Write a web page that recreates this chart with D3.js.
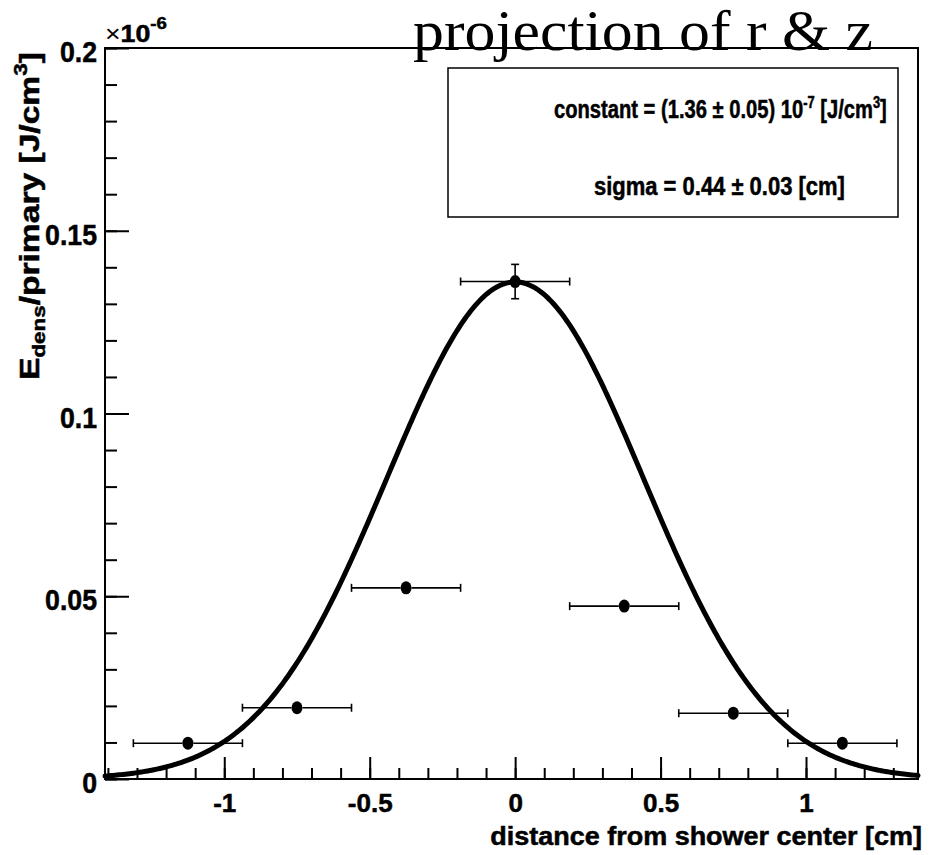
<!DOCTYPE html>
<html><head><meta charset="utf-8">
<script src="https://cdn.jsdelivr.net/npm/d3@7"></script>
<style>
body{margin:0;background:#fff;}
svg{display:block;}
text{font-family:"Liberation Sans",Arial,sans-serif;font-weight:bold;fill:#000;stroke:#000;stroke-width:0.5px;}
</style></head>
<body>
<svg id="c" width="933" height="855"></svg>
<script>
// ---- data (values in units of 1e-6 J/cm^3) ----
const binCenters = [-1.125, -0.75, -0.375, 0, 0.375, 0.75, 1.125];
const binHalfWidth = [0.1875, 0.1875, 0.1875, 0.1875, 0.1875, 0.1875, 0.1875];
const edens = [0.0098, 0.0195, 0.0523, 0.1361, 0.0473, 0.0180, 0.0098];
const edensErr = [0.0012, 0.0014, 0.0018, 0.0047, 0.0017, 0.0014, 0.0012];
const fitParams = [0.136, 0.0, 0.44]; // constant (x1e-6), mean, sigma
const yTickLabels = ["0", "0.05", "0.1", "0.15", "0.2"];
const xTickLabels = ["-1", "-0.5", "0", "0.5", "1"];
const titleText = "projection of r & z";
const statLines = ["constant = (1.36 \u00b1 0.05) 10", "sigma = 0.44 \u00b1 0.03 [cm]"];

const svg = d3.select("#c");
const L = 105, R = 918, T = 48, B = 779;
const x = d3.scaleLinear().domain([-1.41, 1.385]).range([L, R]);
const y = d3.scaleLinear().domain([0, 0.2]).range([B, T]);

// horizontally scale a text element so its width equals target, keeping anchor point fixed
function fitWidth(node, target, ax, ay, pre) {
  const w = node.getBBox().width;
  const s = target / w;
  node.setAttribute("transform", (pre || "") + ` translate(${ax},${ay}) scale(${s},1) translate(${-ax},${-ay})`);
}

// frame
svg.append("rect").attr("x", L).attr("y", T).attr("width", R - L).attr("height", B - T)
  .attr("fill", "none").attr("stroke", "#000").attr("stroke-width", 2);

// y axis ticks
const yMajor = yTickLabels.map(Number);
const yMinor = d3.range(0, 0.2001, 0.01);
const yAxis = d3.axisLeft(y).tickValues(yMajor).tickFormat((d, i) => yTickLabels[i])
  .tickSizeInner(-24).tickSizeOuter(0).tickPadding(8);
const gy = svg.append("g").attr("transform", `translate(${L},0)`).call(yAxis);
gy.select(".domain").remove();
gy.selectAll("line").attr("stroke-width", 2);
gy.selectAll("text").style("font-size", "30px").attr("dy", "0.45em")
  .attr("transform", "translate(-8,0) scale(0.89,1) translate(8,0)");
const yAxisMin = d3.axisLeft(y).tickValues(yMinor).tickFormat("").tickSizeInner(-12).tickSizeOuter(0);
const gym = svg.append("g").attr("transform", `translate(${L},0)`).call(yAxisMin);
gym.select(".domain").remove();
gym.selectAll("line").attr("stroke-width", 2);

// x axis ticks
const xMajor = xTickLabels.map(Number);
const xMinor = d3.range(-1.4, 1.3501, 0.1).map(v => Math.round(v * 10) / 10);
const xAxis = d3.axisBottom(x).tickValues(xMajor).tickFormat((d, i) => xTickLabels[i])
  .tickSizeInner(-22).tickSizeOuter(0).tickPadding(14);
const gx = svg.append("g").attr("transform", `translate(0,${B})`).call(xAxis);
gx.select(".domain").remove();
gx.selectAll("line").attr("stroke-width", 2);
gx.selectAll("text").style("font-size", "26px").attr("dy", "0.72em");
const xAxisMin = d3.axisBottom(x).tickValues(xMinor.filter(v => v > -1.41)).tickFormat("").tickSizeInner(-11).tickSizeOuter(0);
const gxm = svg.append("g").attr("transform", `translate(0,${B})`).call(xAxisMin);
gxm.select(".domain").remove();
gxm.selectAll("line").attr("stroke-width", 2);

// axis titles
const xt = svg.append("text").attr("x", 922).attr("y", 845).attr("text-anchor", "end")
  .style("font-size", "25px").text("distance from shower center [cm]");
fitWidth(xt.node(), 432, 922, 845);

const yl = svg.append("text").attr("x", 0).attr("y", 0).style("font-size", "27px");
yl.append("tspan").text("E");
yl.append("tspan").attr("dy", 6).style("font-size", "18px").text("dens");
yl.append("tspan").attr("dy", -6).text("/primary [J/cm");
yl.append("tspan").attr("dy", -12).style("font-size", "18px").text("3");
yl.append("tspan").attr("dy", 12).text("]");
fitWidth(yl.node(), 328, 0, 0, "translate(39,380) rotate(-90)");

// x10^-6
const mul = svg.append("text").attr("x", 105).attr("y", 42).style("font-size", "23px");
mul.append("tspan").style("font-weight", "normal").style("stroke-width", "0px").text("\u00d7");
mul.append("tspan").text("10");
mul.append("tspan").attr("dy", -13).style("font-size", "16px").text("-6");
fitWidth(mul.node(), 62, 105, 42);

// fit curve
const curveX = d3.range(0, 401).map(i => -1.41 + i * (1.385 + 1.41) / 400);
const gauss = v => fitParams[0] * Math.exp(-0.5 * Math.pow((v - fitParams[1]) / fitParams[2], 2));
svg.append("path").datum(curveX)
  .attr("d", d3.line().x(d => x(d)).y(d => y(gauss(d))))
  .attr("fill", "none").attr("stroke", "#000").attr("stroke-width", 5).attr("stroke-linecap", "round");

// data points with error bars
const mrx = 5.5, mry = 6.5, cap = 4;
const pts = svg.append("g");
binCenters.forEach((c, i) => {
  const px = x(c), py = y(edens[i]);
  const x0 = x(c - binHalfWidth[i]), x1 = x(c + binHalfWidth[i]);
  const g = pts.append("g").attr("stroke", "#000").attr("stroke-width", 1.6);
  g.append("line").attr("x1", x0).attr("x2", px - mrx).attr("y1", py).attr("y2", py);
  g.append("line").attr("x1", px + mrx).attr("x2", x1).attr("y1", py).attr("y2", py);
  g.append("line").attr("x1", x0).attr("x2", x0).attr("y1", py - cap).attr("y2", py + cap);
  g.append("line").attr("x1", x1).attr("x2", x1).attr("y1", py - cap).attr("y2", py + cap);
  const ey0 = y(edens[i] + edensErr[i]), ey1 = y(edens[i] - edensErr[i]);
  if (py - ey0 > mry + 2) {
    g.append("line").attr("x1", px).attr("x2", px).attr("y1", ey0).attr("y2", py - mry);
    g.append("line").attr("x1", px).attr("x2", px).attr("y1", py + mry).attr("y2", ey1);
    g.append("line").attr("x1", px - cap).attr("x2", px + cap).attr("y1", ey0).attr("y2", ey0);
    g.append("line").attr("x1", px - cap).attr("x2", px + cap).attr("y1", ey1).attr("y2", ey1);
  }
  pts.append("ellipse").attr("cx", px).attr("cy", py).attr("rx", mrx).attr("ry", mry).attr("fill", "#000");
});

// stats box
svg.append("rect").attr("x", 448).attr("y", 68).attr("width", 450).attr("height", 149)
  .attr("fill", "#fff").attr("stroke", "#000").attr("stroke-width", 1.5);
const s1 = svg.append("text").attr("x", 554).attr("y", 118).style("font-size", "25px");
s1.append("tspan").text(statLines[0]);
s1.append("tspan").attr("dy", -10).style("font-size", "16px").text("-7");
s1.append("tspan").attr("dy", 10).text(" [J/cm");
s1.append("tspan").attr("dy", -10).style("font-size", "16px").text("3");
s1.append("tspan").attr("dy", 10).text("]");
fitWidth(s1.node(), 333, 554, 118);
const s2 = svg.append("text").attr("x", 594).attr("y", 195).style("font-size", "25px").text(statLines[1]);
fitWidth(s2.node(), 251, 594, 195);

// title
const tt = svg.append("text").attr("x", 413).attr("y", 50)
  .style("font-family", "'Liberation Serif','Times New Roman',serif").style("font-weight", "normal")
  .style("stroke-width", "0px")
  .style("font-size", "56px").text(titleText);
fitWidth(tt.node(), 460, 413, 50);
</script>
</body></html>
